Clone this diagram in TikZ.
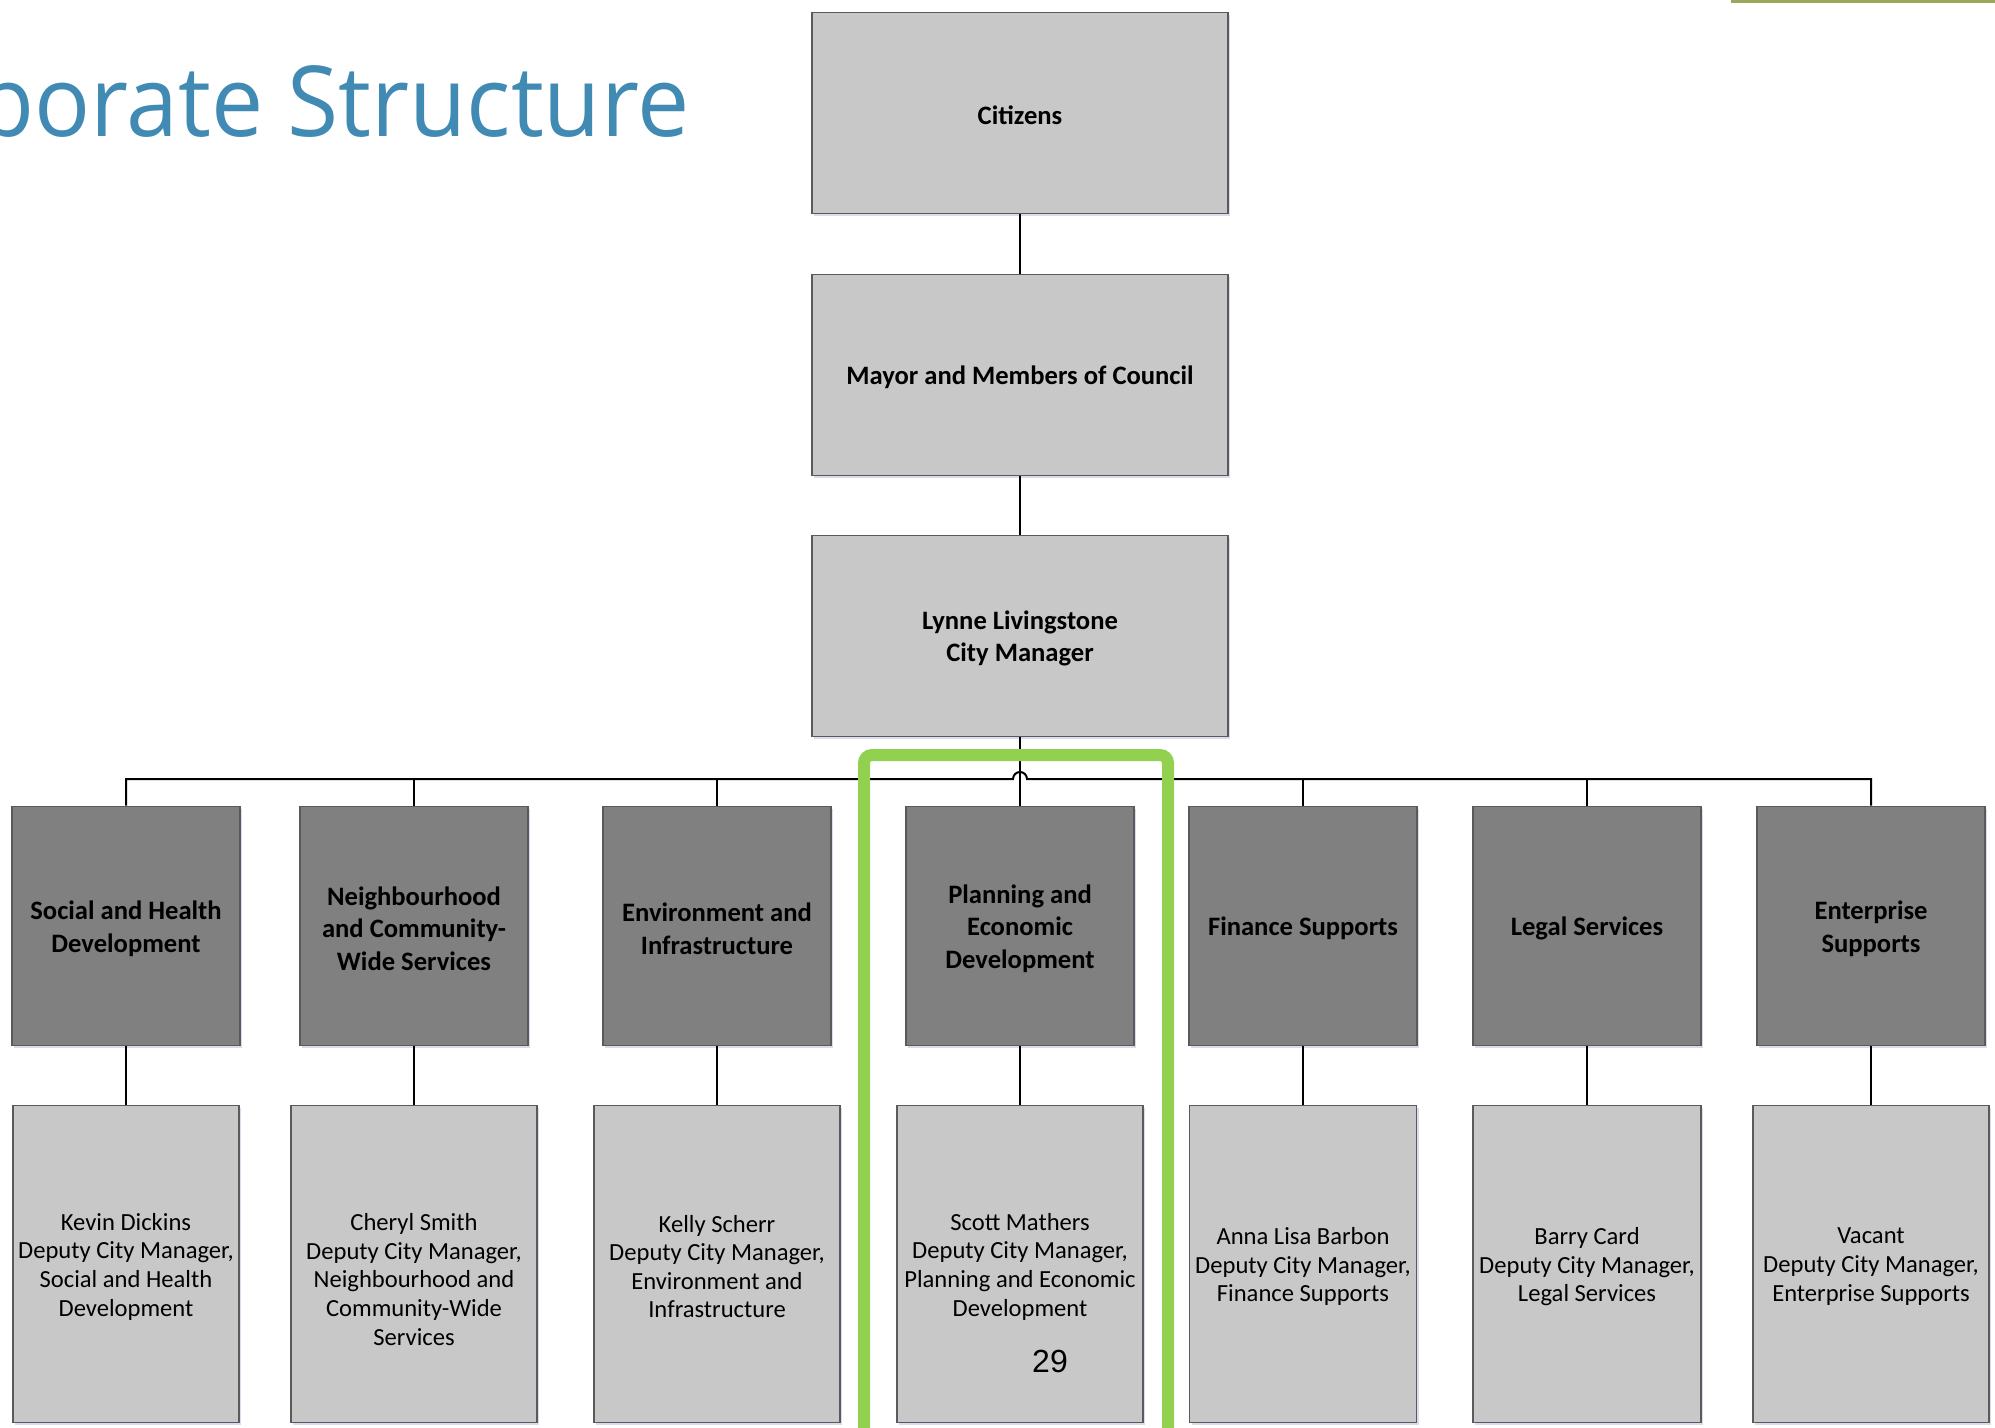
\documentclass[tikz,border=0pt]{standalone}
\usepackage{fontspec}
\setmainfont{Carlito}
\newfontfamily\titlefont[FakeStretch=0.95]{Open Sans}
\newfontfamily\numfont{Liberation Sans}
\usetikzlibrary{positioning,shadows}
\definecolor{titleblue}{HTML}{418AB3}
\definecolor{boxlight}{HTML}{C8C8C8}
\definecolor{boxdark}{HTML}{808080}
\definecolor{boxline}{HTML}{5A5A5A}
\definecolor{markgreen}{HTML}{92D050}
\definecolor{barolive}{HTML}{9BA75C}
\tikzset{
  orgbox/.style={draw=boxline, line width=0.8pt, inner sep=0pt,
    drop shadow={shadow xshift=1.2pt, shadow yshift=-1.2pt, fill=blue!40!gray, opacity=0.2}},
  topbox/.style={orgbox, fill=boxlight, minimum width=208pt, minimum height=100.5pt},
  deptbox/.style={orgbox, fill=boxdark, minimum width=114pt, minimum height=119.5pt},
  headbox/.style={orgbox, fill=boxlight, minimum height=158.5pt},
  boxtext/.style={align=center, inner sep=0pt, yshift=-1.3pt,
    font=\bfseries\fontsize{13.3}{16.2}\selectfont},
  headtext/.style={align=center, inner sep=0pt, yshift=-1.3pt,
    font=\fontsize{12.3}{14.3}\selectfont},
  link/.style={line width=1pt, black},
}

\begin{document}
\begin{tikzpicture}[x=0.5pt, y=-0.5pt]
    \useasboundingbox (0,0) rectangle (1995,1428);
    \clip (0,0) rectangle (1995,1428);

    \node[anchor=base east, inner sep=0pt, text=titleblue,
          font=\titlefont\fontsize{49}{56}\selectfont] (title) at (690,137) {Corporate Structure};
    \fill[barolive] (1731,0) rectangle (1995,3);

    \node[topbox, label={[boxtext]center:Citizens}] (citizens) at (1020,113) {};
    \node[topbox, label={[boxtext]center:Mayor and Members of Council}] (council) at (1020,375) {};
    \node[topbox, label={[boxtext]center:{Lynne Livingstone\\City Manager}}] (manager) at (1020,636) {};

    \foreach \i/\cx/\hw/\ty/\dept/\head in {
        1/126/113/0/{Social and Health\\Development}/{Kevin Dickins\\Deputy City Manager,\\Social and Health\\Development},
        2/414/123/-6.4/{Neighbourhood\\and Community-\\Wide Services}/{Cheryl Smith\\Deputy City Manager,\\Neighbourhood and\\Community-Wide\\Services},
        3/717/123/0/{Environment and\\Infrastructure}/{Kelly Scherr\\Deputy City Manager,\\Environment and\\Infrastructure},
        4/1020/123/0/{Planning and\\Economic\\Development}/{Scott Mathers\\Deputy City Manager,\\Planning and Economic\\Development},
        5/1303/113.5/0/{Finance Supports}/{Anna Lisa Barbon\\Deputy City Manager,\\Finance Supports},
        6/1587/114/0/{Legal Services}/{Barry Card\\Deputy City Manager,\\Legal Services},
        7/1871/118/0/{Enterprise\\Supports}/{Vacant\\Deputy City Manager,\\Enterprise Supports}}{
        \node[deptbox, label={[boxtext]center:{\dept}}] (dept\i) at (\cx,926) {};
        \node[headbox, minimum width=\hw pt, label={[headtext, yshift=\ty pt]center:{\head}}] (head\i) at (\cx,1264) {};
        \draw[link] (dept\i) -- (head\i);
    }

    \coordinate (hop) at (1020,779);
    \draw[link] (citizens) -- (council);
    \draw[link] (council) -- (manager);
    \draw[link] (manager) -- (dept4);
    \draw[link] (dept1.north) |- ([xshift=-3.5pt]hop) arc[start angle=180, end angle=0, radius=3.5pt] -| (dept7.north);
    \foreach \i in {2,3,5,6}
        \draw[link] (dept\i.north) -- (dept\i.north |- hop);

    \node[font=\numfont\fontsize{16}{18}\selectfont] (pagenum) at (1050,1361) {29};

    \draw[markgreen, line width=6pt, rounded corners=4pt] (864,1440) -- (864,755) -- (1168,755) -- (1168,1440);
\end{tikzpicture}
\end{document}
